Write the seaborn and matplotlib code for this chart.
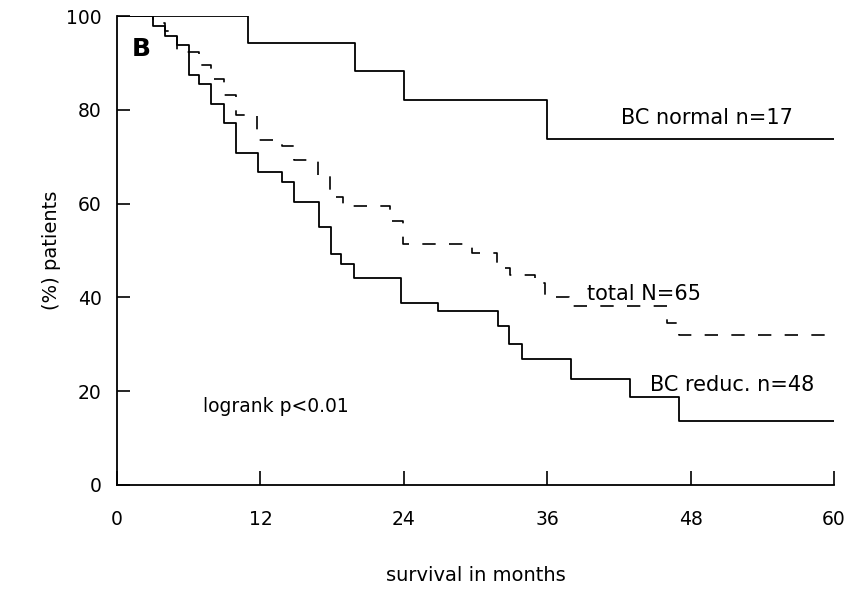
import numpy as np
import pandas as pd
import seaborn as sns
import matplotlib.pyplot as plt

# Kaplan-Meier curves (month of step, % surviving after the step)
normal_months = [0, 11.0, 19.9, 24.0, 36.0]
normal_pct = [100, 94.3, 88.3, 82.0, 73.8]

reduc_months = [0, 3.0, 4.0, 5.0, 6.0, 6.9, 7.9, 8.95, 9.96, 11.8, 13.8, 14.8,
                16.9, 17.9, 18.7, 19.8, 23.8, 26.9, 31.9, 32.8, 33.9, 38.0, 42.9, 47.0]
reduc_pct = [100, 97.9, 95.8, 93.8, 87.5, 85.4, 81.3, 77.1, 70.8, 66.7, 64.6, 60.4,
             55.1, 49.2, 47.1, 44.1, 38.7, 37.0, 34.0, 30.0, 26.8, 22.5, 18.7, 13.6]

total_months = [0, 3.0, 4.0, 5.0, 6.9, 7.9, 8.95, 9.96, 11.7, 13.8, 14.8, 16.8,
                17.8, 18.9, 22.8, 23.9, 29.7, 31.8, 32.9, 35.0, 35.8, 37.8, 46.0, 47.0]
total_pct = [100, 98.5, 96.9, 92.3, 89.5, 86.5, 83.1, 78.8, 73.6, 72.3, 69.2, 66.2,
             61.5, 59.5, 56.3, 51.3, 49.5, 46.2, 44.8, 43.1, 40.0, 38.2, 34.5, 32.0]

max_month = 60


def km_frame(months, pct):
    """ Build a frame for a step curve, carrying the last value to the end of follow-up """
    df = pd.DataFrame({"month": months, "pct": pct})
    last = pd.DataFrame({"month": [max_month], "pct": [pct[-1]]})
    return pd.concat([df, last], ignore_index=True)


sns.set_style("ticks")
plt.rcParams["font.family"] = ["DejaVu Sans"]
plt.rcParams["text.color"] = "black"
plt.rcParams["axes.labelcolor"] = "black"
plt.rcParams["xtick.color"] = "black"
plt.rcParams["ytick.color"] = "black"

fig = plt.figure(figsize=(8.58, 5.89), dpi=100)
ax = fig.add_axes([0.1364, 0.1766, 0.8357, 0.7962])

line_kw = dict(x="month", y="pct", color="black", drawstyle="steps-post",
               estimator=None, sort=False, ax=ax)
sns.lineplot(data=km_frame(normal_months, normal_pct), linewidth=1.3, **line_kw)
sns.lineplot(data=km_frame(reduc_months, reduc_pct), linewidth=1.3, **line_kw)
sns.lineplot(data=km_frame(total_months, total_pct), linewidth=1.2,
             linestyle=(0, (8, 8)), **line_kw)

ax.set_xlim(0, 60)
ax.set_ylim(0, 100)
ax.set_xticks([0, 12, 24, 36, 48, 60])
ax.set_yticks([0, 20, 40, 60, 80, 100])
ax.tick_params(axis="x", direction="in", length=10, width=1.2, pad=18, labelsize=13.5)
ax.tick_params(axis="y", direction="in", length=9, width=1.2, pad=11, labelsize=13.5)
sns.despine(ax=ax)
for side in ["left", "bottom"]:
    ax.spines[side].set_linewidth(1.3)
    ax.spines[side].set_color("black")

ax.set_xlabel("survival in months", fontsize=14, labelpad=27)
ax.set_ylabel("(%) patients", fontsize=14, labelpad=4)

ax.text(1.2, 92.9, "B", fontsize=18, fontweight="bold", va="center")
ax.text(42.2, 78.2, "BC normal n=17", fontsize=15, va="center")
ax.text(39.3, 40.8, "total N=65", fontsize=15, va="center")
ax.text(44.6, 21.3, "BC reduc. n=48", fontsize=15, va="center")
ax.text(7.2, 16.8, "logrank p<0.01", fontsize=13.5, va="center")

plt.savefig("out.png", dpi=100)
